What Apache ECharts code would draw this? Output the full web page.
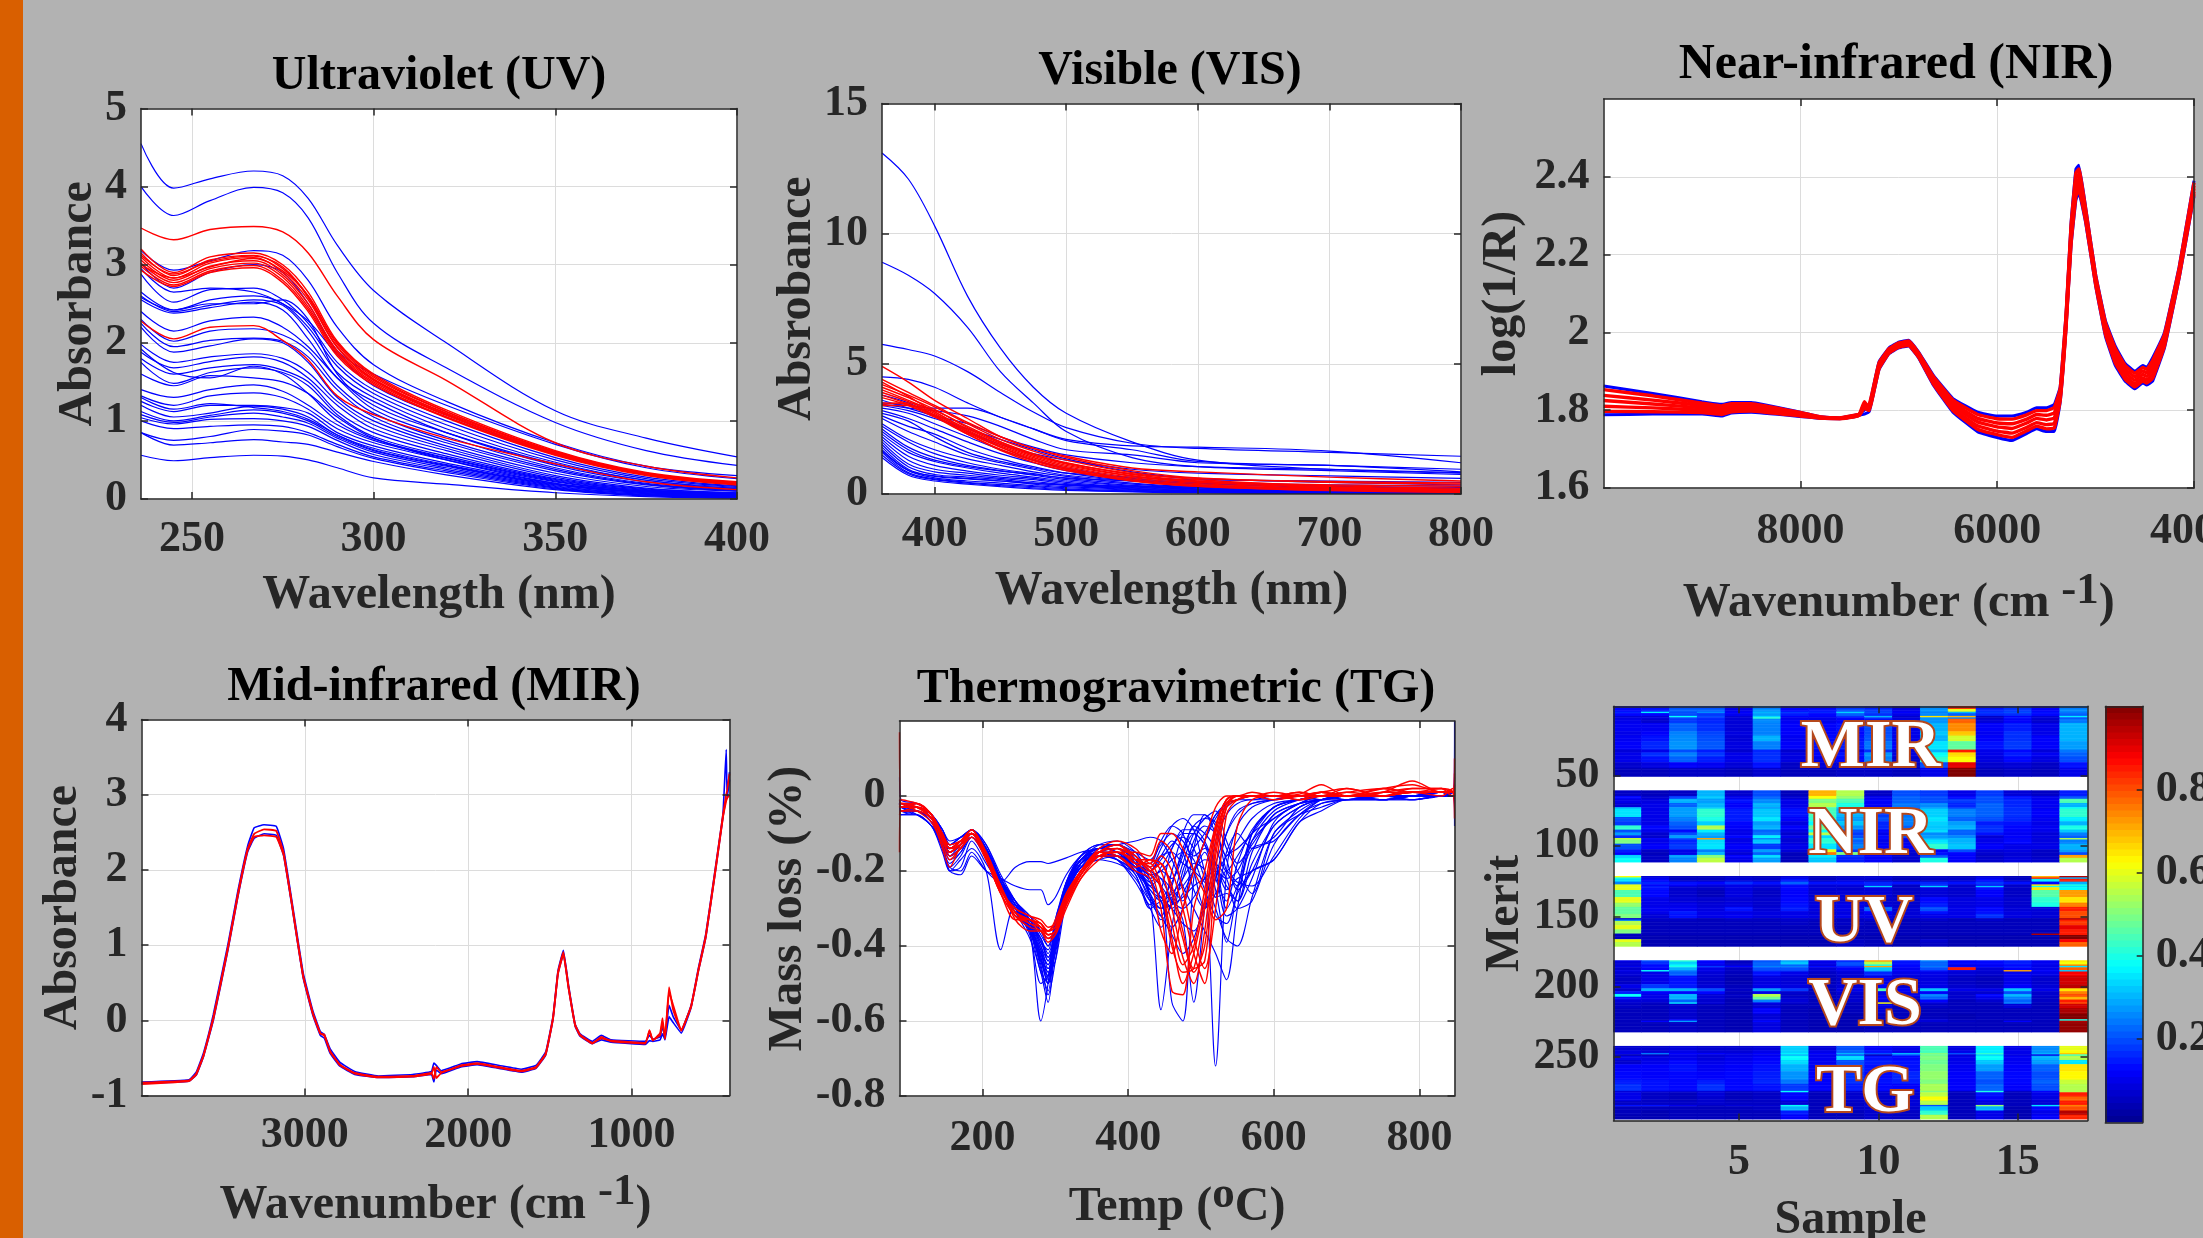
<!DOCTYPE html>
<html><head><meta charset="utf-8">
<style>html,body{margin:0;padding:0;background:#b2b2b2;overflow:hidden}#c{width:2203px;height:1238px}</style>
<script src="https://cdn.jsdelivr.net/npm/echarts@6/dist/echarts.min.js"></script></head>
<body><div id="c"></div>
<script>
const FONT='"Liberation Serif","Times New Roman",serif';
// ---------- UV ----------
const uvX=[236,245,255,267,275,282,290,300,320,350,375,400];
const uvBlue=[
[4.55,3.98,4.1,4.2,4.14,3.85,3.25,2.67,2.0,1.13,.78,.54],
[4.0,3.63,3.82,3.99,3.92,3.6,2.9,2.25,1.68,.98,.62,.43],
[3.18,2.93,3.05,3.18,3.12,2.8,2.2,1.72,1.25,.72,.42,.3],
[2.95,2.65,2.7,2.65,2.5,2.28,1.85,1.45,1.05,.58,.31,.2],
[2.88,2.52,2.68,2.7,2.55,2.25,1.75,1.4,1.0,.53,.28,.17],
[2.65,2.42,2.55,2.6,2.5,2.2,1.7,1.35,.95,.5,.26,.16],
[2.6,2.4,2.48,2.55,2.48,2.15,1.62,1.3,.9,.47,.24,.15],
[2.55,2.38,2.45,2.52,2.42,2.05,1.55,1.25,.85,.43,.22,.14],
[2.4,2.15,2.28,2.33,2.2,1.95,1.55,1.15,.8,.4,.2,.12],
[2.3,2.02,2.15,2.18,2.1,1.9,1.45,1.1,.75,.38,.19,.11],
[2.25,1.95,2.03,2.06,2.02,1.82,1.4,1.05,.72,.36,.18,.1],
[2.2,1.88,1.96,2.05,2.0,1.75,1.3,1.0,.68,.33,.16,.1],
[1.98,1.75,1.82,1.86,1.8,1.62,1.25,.95,.65,.3,.14,.08],
[1.88,1.68,1.76,1.82,1.75,1.55,1.2,.9,.62,.28,.13,.08],
[1.8,1.6,1.68,1.72,1.65,1.5,1.12,.85,.58,.26,.12,.07],
[1.75,1.48,1.62,1.68,1.62,1.45,1.08,.8,.55,.25,.11,.07],
[1.4,1.3,1.4,1.46,1.38,1.2,.95,.75,.52,.23,.1,.06],
[1.32,1.2,1.32,1.36,1.3,1.15,.9,.72,.5,.22,.1,.06],
[1.25,1.12,1.2,1.2,1.17,1.1,.85,.68,.46,.2,.09,.05],
[1.2,1.05,1.1,1.19,1.15,1.05,.82,.65,.44,.19,.08,.05],
[1.12,1.0,1.07,1.14,1.1,1.0,.8,.62,.42,.17,.07,.04],
[1.08,.98,1.05,1.1,1.05,.97,.78,.6,.4,.16,.07,.04],
[1.04,.96,1.02,1.03,1.0,.93,.75,.57,.38,.15,.06,.03],
[1.0,.9,.93,.95,.93,.85,.7,.54,.36,.14,.05,.03],
[.85,.75,.8,.89,.87,.82,.67,.52,.34,.13,.05,.02],
[.85,.69,.72,.76,.73,.7,.6,.48,.31,.12,.04,.02],
[.56,.49,.53,.56,.55,.5,.4,.27,.19,.08,.03,.01],
[1.3,1.15,1.22,1.17,1.12,1.02,.82,.63,.43,.18,.08,.04],
[1.92,1.62,1.55,1.7,1.6,1.35,1.0,.77,.53,.24,.11,.06],
[2.58,2.42,2.5,2.5,2.55,2.3,1.6,1.2,.85,.45,.24,.13],
[3.02,2.7,2.9,3.0,2.9,2.5,1.9,1.6,1.2,.7,.4,.26],
[1.6,1.45,1.58,1.55,1.5,1.35,1.05,.78,.5,.2,.09,.05]];
const uvRed=[
[3.47,3.32,3.45,3.49,3.42,3.15,2.6,2.04,1.52,.72,.42,.27],
[3.2,2.9,3.1,3.15,3.0,2.65,2.02,1.6,1.14,.62,.34,.22],
[3.15,2.86,3.06,3.12,2.95,2.6,1.98,1.56,1.12,.61,.33,.21],
[3.1,2.83,3.02,3.09,2.9,2.55,1.94,1.53,1.1,.6,.32,.21],
[3.06,2.8,2.98,3.05,2.87,2.5,1.9,1.52,1.08,.59,.32,.2],
[3.02,2.77,2.95,3.02,2.84,2.46,1.88,1.5,1.07,.58,.31,.2],
[2.98,2.74,2.92,2.99,2.8,2.43,1.86,1.48,1.05,.57,.31,.19],
[2.93,2.72,2.9,2.96,2.77,2.4,1.83,1.46,1.04,.56,.3,.18],
[3.0,2.83,2.97,3.08,2.92,2.6,2.0,1.58,1.12,.6,.33,.2],
[3.12,2.88,3.04,3.11,2.97,2.58,1.95,1.54,1.09,.58,.31,.19],
[2.28,2.05,2.2,2.22,2.03,1.78,1.32,1.08,.78,.45,.22,.12]];
// ---------- VIS ----------
const visX=[360,380,400,425,450,475,500,550,600,700,800];
const visBlue=[
[13.1,12.1,10.3,7.6,5.6,4.1,3.1,2.0,1.3,.95,.8],
[8.9,8.4,7.7,6.4,4.7,3.5,2.4,1.4,1.05,.9,.75],
[5.75,5.55,5.3,4.7,3.9,3.15,2.55,1.95,1.75,1.6,1.45],
[4.5,4.4,4.1,3.5,2.95,2.5,2.1,1.85,1.8,1.65,1.2],
[3.5,3.4,3.3,3.3,2.95,2.5,2.05,1.7,1.25,1.1,.95],
[3.45,3.3,3.2,3.0,2.6,2.1,1.7,1.5,1.2,1.1,.85],
[3.6,3.3,3.0,2.7,2.2,1.8,1.5,1.2,1.05,.95,.82],
[3.8,3.5,3.0,2.4,1.9,1.55,1.3,.95,.8,.7,.6],
[3.4,3.2,2.9,2.5,2.1,1.7,1.35,.85,.6,.45,.35],
[3.3,3.1,2.7,2.2,1.7,1.3,1.0,.6,.45,.3,.2],
[3.2,2.9,2.5,2.0,1.55,1.2,.9,.55,.4,.25,.15],
[3.0,2.6,2.3,1.75,1.35,1.05,.8,.5,.33,.2,.12],
[2.7,2.1,1.7,1.35,1.1,.85,.68,.42,.28,.16,.1],
[2.6,2.0,1.55,1.2,.95,.78,.6,.38,.25,.13,.08],
[2.5,1.8,1.4,1.1,.9,.72,.55,.33,.22,.12,.07],
[2.3,1.6,1.25,1.0,.8,.65,.5,.3,.2,.1,.06],
[2.2,1.45,1.1,.88,.72,.6,.45,.27,.18,.09,.05],
[2.1,1.3,.95,.8,.65,.55,.4,.25,.16,.08,.04],
[2,1.15,.85,.72,.6,.48,.36,.22,.14,.07,.04],
[1.9,1.05,.75,.65,.55,.42,.33,.2,.12,.06,.03],
[1.8,.95,.68,.58,.5,.38,.28,.18,.1,.05,.03],
[1.7,.9,.62,.5,.42,.32,.24,.15,.08,.04,.02],
[1.6,.82,.58,.45,.36,.28,.2,.12,.07,.03,.02],
[1.5,.78,.55,.42,.32,.24,.17,.1,.06,.03,.02],
[1.4,.72,.5,.38,.28,.2,.14,.08,.04,.02,.01],
[2.9,2.4,2.0,1.5,1.2,.95,.72,.5,.4,.3,.25],
[3.1,2.8,2.2,1.6,1.25,1.0,.8,.65,.55,.5,.45],
[2.4,1.7,1.3,1.05,.88,.75,.62,.5,.42,.35,.3],
[1.65,.9,.7,.6,.5,.42,.35,.3,.25,.2,.16]];
const visRed=[
[4.9,4.3,3.6,2.9,2.2,1.75,1.45,1.0,.85,.65,.5],
[4.4,3.9,3.4,2.75,2.2,1.75,1.4,.9,.62,.45,.38],
[4.2,3.8,3.35,2.7,2.1,1.65,1.3,.82,.55,.32,.22],
[4.1,3.7,3.25,2.55,2.0,1.55,1.2,.75,.5,.28,.18],
[4.0,3.6,3.15,2.45,1.9,1.45,1.1,.68,.45,.25,.15],
[3.9,3.55,3.1,2.4,1.85,1.4,1.05,.63,.4,.22,.13],
[3.8,3.45,3.0,2.35,1.8,1.35,1.0,.58,.36,.19,.11],
[3.7,3.4,2.95,2.3,1.72,1.28,.95,.53,.33,.17,.09],
[3.5,3.45,3.0,2.3,1.68,1.22,.9,.5,.3,.15,.08],
[3.4,3.4,3.05,2.4,1.8,1.3,.95,.52,.3,.13,.06],
[3.45,3.5,3.2,2.6,2.0,1.5,1.15,.7,.48,.35,.3],
[4.3,3.75,3.15,2.5,1.95,1.5,1.18,.78,.6,.48,.42]];
// ---------- NIR ----------
const nirX=[10000,9500,9000,8800,8700,8500,8000,7800,7600,7450,7400,7350,7300,7250,7200,7100,7000,6900,6800,6650,6450,6200,6000,5850,5700,5600,5500,5420,5360,5300,5250,5200,5170,5100,5000,4900,4800,4700,4600,4520,4480,4420,4300,4150,4000];
const nirBlue=[
[1.862,1.843,1.822,1.815,1.82,1.82,1.795,1.783,1.78,1.787,1.79,1.8,1.812,1.87,1.925,1.96,1.975,1.98,1.95,1.89,1.83,1.795,1.785,1.785,1.795,1.806,1.806,1.815,1.86,2.05,2.28,2.42,2.43,2.32,2.15,2.03,1.965,1.92,1.9,1.915,1.91,1.935,2.0,2.17,2.39],
[1.788,1.79,1.79,1.785,1.793,1.795,1.784,1.779,1.778,1.783,1.787,1.79,1.797,1.85,1.905,1.945,1.96,1.965,1.935,1.865,1.795,1.745,1.73,1.722,1.74,1.752,1.745,1.745,1.82,2.01,2.22,2.34,2.36,2.28,2.12,1.99,1.915,1.875,1.855,1.87,1.865,1.875,1.96,2.14,2.35]];
const nirRed=[
[1.853,1.837,1.818,1.811,1.817,1.817,1.794,1.783,1.78,1.787,1.79,1.81,1.815,1.868,1.922,1.958,1.973,1.978,1.948,1.887,1.826,1.789,1.778,1.777,1.788,1.799,1.799,1.807,1.855,2.045,2.272,2.41,2.42,2.315,2.146,2.025,1.959,1.915,1.895,1.91,1.905,1.928,1.995,2.166,2.385],
[1.838,1.826,1.812,1.805,1.812,1.812,1.791,1.782,1.779,1.786,1.789,1.815,1.808,1.864,1.919,1.955,1.97,1.975,1.945,1.882,1.819,1.779,1.767,1.765,1.777,1.789,1.787,1.793,1.847,2.037,2.26,2.395,2.408,2.307,2.14,2.017,1.949,1.906,1.886,1.901,1.896,1.916,1.987,2.16,2.377],
[1.825,1.816,1.806,1.8,1.806,1.807,1.789,1.781,1.779,1.785,1.79,1.822,1.805,1.86,1.915,1.952,1.967,1.972,1.942,1.877,1.812,1.77,1.757,1.753,1.767,1.779,1.775,1.78,1.84,2.03,2.25,2.38,2.395,2.3,2.135,2.01,1.94,1.897,1.877,1.892,1.887,1.905,1.98,2.155,2.37],
[1.81,1.806,1.8,1.794,1.8,1.802,1.787,1.78,1.779,1.784,1.788,1.812,1.802,1.856,1.911,1.949,1.964,1.969,1.939,1.872,1.805,1.76,1.746,1.741,1.756,1.768,1.763,1.766,1.832,2.022,2.238,2.364,2.381,2.292,2.129,2.002,1.93,1.888,1.868,1.883,1.878,1.893,1.972,2.149,2.362],
[1.797,1.796,1.794,1.789,1.796,1.798,1.785,1.78,1.778,1.783,1.787,1.805,1.799,1.852,1.907,1.947,1.962,1.967,1.937,1.868,1.799,1.751,1.737,1.73,1.747,1.759,1.752,1.754,1.825,2.015,2.228,2.35,2.368,2.285,2.124,1.995,1.921,1.88,1.86,1.875,1.87,1.882,1.965,2.144,2.355]];
// ---------- MIR ----------
const mirX=[4000,3710,3665,3620,3560,3470,3410,3350,3310,3250,3175,3130,3085,3010,2950,2905,2880,2845,2785,2695,2550,2340,2225,2210,2195,2165,2045,1945,1810,1675,1585,1525,1480,1450,1417,1385,1345,1315,1240,1185,1125,915,890,870,825,810,795,770,745,695,635,590,545,485,440,420,415,400];
const mirBlue=[
[-.82,-.79,-.69,-.43,.08,1.02,1.72,2.32,2.56,2.6,2.58,2.28,1.67,.63,.12,-.15,-.19,-.38,-.56,-.68,-.74,-.72,-.68,-.57,-.6,-.67,-.58,-.55,-.6,-.65,-.6,-.42,.06,.66,.93,.46,-.05,-.18,-.28,-.2,-.26,-.28,-.2,-.25,-.22,-.08,-.24,.2,.05,-.13,.2,.7,1.15,2.05,2.75,3.6,3.0,3.3],
[-.84,-.81,-.73,-.48,.0,.94,1.64,2.24,2.42,2.48,2.46,2.19,1.6,.56,.06,-.2,-.24,-.44,-.61,-.72,-.76,-.75,-.72,-.82,-.66,-.71,-.62,-.59,-.64,-.69,-.64,-.46,.02,.62,.88,.42,-.08,-.21,-.31,-.26,-.29,-.32,-.27,-.28,-.26,-.18,-.26,.05,-.03,-.17,.17,.66,1.1,2.0,2.7,2.95,2.95,3.2]];
const mirRed=[
[-.83,-.8,-.71,-.46,.04,.98,1.68,2.28,2.48,2.54,2.52,2.23,1.63,.59,.09,-.17,-.21,-.41,-.59,-.7,-.75,-.74,-.7,-.78,-.62,-.69,-.6,-.57,-.62,-.67,-.62,-.44,.04,.64,.91,.44,-.06,-.19,-.3,-.24,-.27,-.3,-.14,-.26,-.2,-.02,-.24,.44,.14,-.14,.19,.68,1.13,2.03,2.73,3.0,3.05,3.28],
[-.85,-.81,-.72,-.47,.02,.96,1.66,2.26,2.44,2.46,2.44,2.2,1.62,.58,.08,-.18,-.19,-.42,-.6,-.71,-.76,-.75,-.71,-.62,-.77,-.7,-.61,-.58,-.63,-.68,-.63,-.45,.03,.62,.88,.42,-.07,-.2,-.31,-.22,-.28,-.31,-.13,-.27,-.17,.03,-.25,.38,.2,-.13,.18,.66,1.11,2.0,2.7,2.92,2.95,3.0]];
// ---------- TG ----------
const tgX=[86,88,110,130,145,155,170,185,205,225,245,265,280,290,300,315,335,360,385,410,430,445,460,475,490,505,520,535,550,570,600,635,665,700,750,790,830,846,848];
const tgBlue=[
[-.02,-.04,-.03,-.06,-.12,-.16,-.13,-.11,-.16,-.24,-.29,-.36,-.6,-.5,-.33,-.25,-.19,-.14,-.13,-.16,-.22,-.28,-.35,-.3,-.2,-.12,-.06,-.02,-.01,0,0,-.01,0,0,-.01,0,.01,.01,.2],
[.05,-.01,-.02,-.05,-.14,-.19,-.16,-.11,-.17,-.25,-.31,-.38,-.47,-.55,-.4,-.25,-.17,-.14,-.15,-.18,-.27,-.57,-.35,-.2,-.14,-.1,-.05,-.02,-.01,0,-.01,0,-.01,0,-.01,-.01,0,0,-.08],
[-.05,-.05,-.04,-.07,-.13,-.2,-.19,-.12,-.18,-.24,-.3,-.37,-.5,-.48,-.37,-.26,-.19,-.16,-.17,-.21,-.3,-.28,-.55,-.6,-.22,-.12,-.05,-.03,-.01,-.01,0,0,-.01,0,0,-.01,0,.01,.05],
[-.03,-.04,-.04,-.06,-.1,-.13,-.12,-.1,-.15,-.24,-.28,-.36,-.42,-.47,-.44,-.28,-.18,-.15,-.16,-.17,-.2,-.22,-.28,-.33,-.55,-.3,-.12,-.05,-.02,-.01,-.01,0,0,-.01,0,0,.01,0,0],
[-.02,-.03,-.05,-.08,-.15,-.2,-.17,-.14,-.2,-.41,-.29,-.32,-.36,-.4,-.34,-.24,-.17,-.14,-.15,-.2,-.25,-.28,-.26,-.22,-.18,-.2,-.72,-.2,-.08,-.03,-.01,0,0,-.01,-.01,0,0,.01,.02],
[-.01,-.03,-.04,-.07,-.14,-.19,-.2,-.15,-.2,-.23,-.19,-.175,-.175,-.18,-.175,-.165,-.15,-.14,-.13,-.12,-.11,-.12,-.17,-.24,-.3,-.36,-.42,-.49,-.3,-.1,-.03,-.01,0,0,-.01,0,.01,.01,.03],
[-.04,-.05,-.05,-.08,-.13,-.2,-.21,-.16,-.2,-.22,-.24,-.25,-.25,-.29,-.27,-.21,-.16,-.14,-.14,-.17,-.23,-.27,-.3,-.26,-.2,-.15,-.25,-.39,-.25,-.1,-.03,-.01,-.01,0,0,-.01,0,0,-.02],
[-.02,-.03,-.03,-.05,-.09,-.13,-.11,-.09,-.13,-.22,-.29,-.33,-.4,-.44,-.35,-.23,-.16,-.14,-.15,-.2,-.27,-.3,-.29,-.27,-.24,-.22,-.2,-.24,-.28,-.15,-.05,-.02,-.01,0,0,0,.01,0,0],
[-.03,-.04,-.03,-.05,-.1,-.14,-.13,-.1,-.14,-.23,-.3,-.35,-.44,-.5,-.36,-.24,-.17,-.15,-.16,-.19,-.26,-.3,-.27,-.24,-.2,-.17,-.18,-.22,-.3,-.28,-.13,-.05,-.02,-.01,0,0,.01,.01,.01],
[-.02,-.03,-.02,-.05,-.09,-.12,-.11,-.09,-.13,-.21,-.28,-.34,-.38,-.43,-.38,-.25,-.18,-.16,-.16,-.18,-.21,-.2,-.17,-.15,-.17,-.25,-.32,-.34,-.26,-.2,-.17,-.07,-.04,-.01,-.01,0,.01,.01,0],
[-.03,-.04,-.04,-.07,-.11,-.15,-.13,-.1,-.15,-.23,-.3,-.35,-.42,-.47,-.4,-.27,-.19,-.17,-.18,-.2,-.2,-.17,-.13,-.11,-.14,-.22,-.3,-.38,-.4,-.27,-.1,-.05,-.03,-.01,-.01,0,0,.01,.01],
[-.02,-.03,-.03,-.06,-.1,-.14,-.12,-.09,-.14,-.23,-.29,-.33,-.39,-.41,-.33,-.23,-.16,-.13,-.13,-.17,-.27,-.32,-.37,-.42,-.38,-.28,-.18,-.1,-.05,-.02,-.01,0,0,0,0,.01,0,0,0],
[-.01,-.02,-.03,-.05,-.09,-.13,-.11,-.1,-.14,-.22,-.28,-.32,-.37,-.4,-.34,-.23,-.17,-.13,-.12,-.15,-.2,-.16,-.12,-.15,-.25,-.3,-.26,-.2,-.23,-.24,-.16,-.06,-.01,0,-.01,-.01,0,0,.01],
[-.03,-.04,-.04,-.07,-.12,-.16,-.14,-.11,-.15,-.24,-.3,-.34,-.38,-.42,-.36,-.25,-.17,-.15,-.16,-.21,-.29,-.25,-.14,-.1,-.1,-.13,-.18,-.25,-.22,-.2,-.17,-.07,-.02,-.01,0,0,.01,.01,0],
[-.02,-.04,-.05,-.08,-.14,-.18,-.15,-.11,-.16,-.24,-.31,-.36,-.44,-.46,-.39,-.26,-.18,-.15,-.17,-.23,-.3,-.35,-.28,-.18,-.1,-.06,-.04,-.12,-.18,-.13,-.05,-.02,-.01,0,0,0,0,0,-.01],
[-.03,-.03,-.03,-.06,-.11,-.15,-.13,-.1,-.15,-.23,-.29,-.34,-.41,-.48,-.42,-.27,-.18,-.14,-.14,-.18,-.26,-.33,-.29,-.22,-.12,-.08,-.1,-.17,-.25,-.2,-.08,-.03,-.01,-.01,0,.01,0,0,0],
[-.02,-.03,-.02,-.05,-.1,-.14,-.12,-.09,-.14,-.22,-.28,-.33,-.36,-.38,-.36,-.24,-.16,-.13,-.13,-.16,-.19,-.14,-.08,-.06,-.09,-.2,-.27,-.15,-.1,-.14,-.11,-.03,-.01,0,0,0,.01,.01,0],
[-.04,-.05,-.05,-.08,-.12,-.15,-.13,-.1,-.15,-.24,-.3,-.36,-.45,-.53,-.44,-.26,-.18,-.16,-.17,-.22,-.28,-.3,-.2,-.1,-.05,-.05,-.1,-.16,-.12,-.06,-.02,-.01,0,0,0,0,0,0,-.01],
[-.02,-.03,-.03,-.06,-.11,-.15,-.13,-.1,-.15,-.23,-.29,-.34,-.43,-.5,-.41,-.26,-.18,-.15,-.14,-.17,-.24,-.22,-.25,-.28,-.14,-.05,-.08,-.2,-.24,-.12,-.04,-.01,0,0,0,0,0,0,.01],
[-.03,-.04,-.03,-.06,-.1,-.14,-.12,-.09,-.14,-.22,-.29,-.35,-.41,-.45,-.37,-.25,-.17,-.14,-.14,-.17,-.18,-.12,-.08,-.1,-.2,-.3,-.22,-.1,-.04,-.02,-.01,0,0,0,0,0,0,0,0],
[-.03,-.04,-.04,-.07,-.12,-.17,-.15,-.1,-.15,-.24,-.3,-.35,-.46,-.52,-.38,-.25,-.18,-.16,-.17,-.2,-.24,-.27,-.3,-.34,-.36,-.3,-.22,-.16,-.14,-.1,-.03,-.01,0,0,0,0,.01,0,0],
[-.02,-.03,-.03,-.06,-.1,-.15,-.13,-.09,-.15,-.23,-.29,-.36,-.43,-.49,-.35,-.24,-.17,-.15,-.15,-.19,-.21,-.24,-.28,-.3,-.27,-.22,-.2,-.22,-.2,-.12,-.06,-.02,0,0,0,0,0,0,0],
[-.03,-.03,-.04,-.06,-.11,-.16,-.14,-.11,-.16,-.24,-.3,-.34,-.4,-.46,-.41,-.26,-.19,-.17,-.16,-.18,-.2,-.16,-.15,-.18,-.2,-.23,-.27,-.26,-.28,-.18,-.08,-.03,-.01,0,0,0,0,0,0],
[-.02,-.04,-.04,-.06,-.1,-.14,-.12,-.1,-.14,-.23,-.28,-.33,-.38,-.44,-.38,-.24,-.17,-.14,-.13,-.15,-.17,-.13,-.1,-.12,-.16,-.14,-.18,-.3,-.24,-.14,-.12,-.05,-.01,0,0,0,0,0,0],
[-.03,-.04,-.03,-.05,-.1,-.14,-.12,-.09,-.14,-.23,-.3,-.36,-.47,-.5,-.39,-.25,-.18,-.15,-.15,-.19,-.23,-.19,-.14,-.09,-.09,-.12,-.2,-.32,-.3,-.22,-.07,-.02,-.01,0,0,0,0,0,0],
[-.02,-.03,-.03,-.06,-.11,-.15,-.13,-.1,-.15,-.23,-.29,-.34,-.42,-.45,-.36,-.24,-.17,-.15,-.16,-.2,-.28,-.32,-.24,-.14,-.08,-.06,-.07,-.14,-.2,-.26,-.1,-.04,-.01,0,0,0,0,0,0],
[-.02,-.03,-.03,-.05,-.1,-.13,-.11,-.09,-.14,-.22,-.28,-.33,-.39,-.43,-.37,-.24,-.17,-.15,-.15,-.18,-.25,-.27,-.23,-.15,-.1,-.13,-.22,-.28,-.18,-.09,-.03,-.01,0,0,0,0,0,0,0],
[-.03,-.04,-.04,-.07,-.12,-.16,-.14,-.1,-.15,-.24,-.3,-.35,-.44,-.48,-.4,-.26,-.18,-.16,-.16,-.19,-.22,-.2,-.22,-.16,-.08,-.1,-.14,-.2,-.16,-.1,-.06,-.02,0,0,0,0,0,0,0]];
const tgRed=[
[.17,-.03,-.03,-.05,-.11,-.14,-.12,-.1,-.16,-.25,-.31,-.33,-.34,-.36,-.35,-.28,-.21,-.16,-.15,-.17,-.2,-.3,-.52,-.53,-.3,-.2,-.08,-.01,0,0,0,.005,.03,0,0,.01,.01,.01,.06],
[-.15,-.01,-.02,-.05,-.12,-.15,-.13,-.1,-.17,-.26,-.32,-.33,-.35,-.37,-.36,-.28,-.2,-.15,-.14,-.18,-.18,-.24,-.38,-.5,-.42,-.28,-.1,-.02,0,0,-.01,0,.01,0,.01,.04,.01,.01,.1],
[-.02,-.03,-.02,-.05,-.1,-.13,-.12,-.1,-.16,-.25,-.3,-.32,-.33,-.35,-.34,-.27,-.2,-.15,-.15,-.17,-.17,-.2,-.3,-.43,-.5,-.36,-.12,-.02,-.01,0,0,.01,0,.02,0,.02,.02,.01,-.06],
[-.03,-.02,-.03,-.06,-.11,-.14,-.13,-.1,-.16,-.25,-.31,-.33,-.35,-.36,-.35,-.27,-.21,-.16,-.16,-.19,-.17,-.18,-.24,-.36,-.46,-.44,-.16,-.03,0,0,0,-.01,0,.01,.02,.01,.02,0,0],
[-.01,-.02,-.04,-.07,-.13,-.17,-.14,-.11,-.17,-.26,-.32,-.34,-.36,-.38,-.36,-.29,-.22,-.17,-.14,-.16,-.19,-.16,-.2,-.3,-.42,-.5,-.2,-.03,-.01,0,0,0,.01,.02,0,.01,0,.02,0],
[-.03,-.03,-.03,-.05,-.12,-.15,-.12,-.09,-.15,-.24,-.32,-.35,-.36,-.39,-.37,-.29,-.21,-.15,-.13,-.16,-.2,-.18,-.26,-.38,-.47,-.4,-.14,-.02,0,0,.01,0,0,0,.02,.03,.01,.01,.02],
[-.05,-.04,-.04,-.06,-.1,-.14,-.12,-.1,-.16,-.25,-.3,-.32,-.34,-.36,-.34,-.26,-.2,-.14,-.12,-.14,-.18,-.12,-.15,-.25,-.38,-.46,-.3,-.05,-.01,0,0,-.01,.01,0,.01,.02,.02,.01,.03],
[-.02,-.02,-.02,-.05,-.11,-.13,-.12,-.1,-.15,-.24,-.31,-.33,-.34,-.37,-.36,-.28,-.2,-.16,-.15,-.15,-.16,-.1,-.1,-.14,-.2,-.26,-.33,-.3,-.08,-.01,0,0,.01,0,0,.01,.01,.01,.01],
[-.03,-.03,-.03,-.05,-.11,-.16,-.14,-.1,-.17,-.26,-.33,-.33,-.35,-.38,-.37,-.3,-.22,-.16,-.15,-.18,-.21,-.24,-.34,-.45,-.4,-.25,-.08,-.01,0,0,0,0,0,.01,0,.01,.01,.01,.01],
[-.04,-.04,-.03,-.06,-.11,-.14,-.12,-.1,-.16,-.25,-.31,-.34,-.35,-.37,-.36,-.28,-.21,-.15,-.16,-.2,-.22,-.36,-.42,-.3,-.2,-.12,-.03,0,0,.01,0,0,0,0,.01,.01,.01,.01,.01],
[-.02,-.02,-.03,-.06,-.14,-.19,-.13,-.09,-.16,-.24,-.33,-.36,-.36,-.36,-.33,-.26,-.2,-.15,-.13,-.17,-.19,-.25,-.4,-.47,-.46,-.3,-.09,-.01,0,0,0,.01,0,0,.02,.01,.01,.01,.01]];
// ---------- Heat map: each block is band heights (rows) and 17 sample values per band ----------
const samples=[1,2,3,4,5,6,7,8,9,10,11,12,13,14,15,16,17];
const mirHeights=[2,2,1,2,1,1,3,6,3,4,6,2,3,4,4,6];
const mirHeat=[
[.13,.14,.2,.2,.1,.24,.13,.12,.17,.15,.08,.26,.85,.14,.17,.12,.24],
[.13,.15,.22,.22,.1,.27,.13,.14,.2,.18,.1,.27,.6,.16,.18,.12,.26],
[.16,.36,.2,.26,.12,.3,.18,.16,.33,.2,.12,.25,.3,.18,.2,.14,.24],
[.13,.13,.2,.18,.11,.28,.15,.13,.22,.17,.1,.26,.22,.16,.17,.13,.22],
[.08,.08,.38,.2,.08,.34,.12,.12,.17,.3,.07,.65,.7,.06,.12,.08,.36],
[.09,.09,.2,.17,.08,.42,.1,.1,.13,.18,.08,.27,.25,.06,.14,.08,.2],
[.1,.07,.18,.16,.08,.26,.11,.1,.12,.14,.09,.27,.78,.08,.12,.07,.24],
[.11,.11,.22,.17,.08,.25,.12,.12,.14,.2,.1,.3,.74,.12,.15,.1,.3],
[.1,.12,.25,.19,.09,.25,.12,.12,.13,.2,.1,.32,.68,.11,.17,.1,.3],
[.11,.14,.26,.2,.08,.3,.11,.13,.14,.21,.1,.3,.58,.12,.17,.12,.3],
[.12,.16,.27,.21,.09,.25,.12,.14,.15,.24,.12,.35,.47,.14,.18,.12,.28],
[.08,.1,.2,.15,.07,.16,.07,.1,.1,.17,.08,.3,.85,.1,.13,.08,.24],
[.1,.17,.25,.18,.1,.17,.09,.12,.14,.27,.09,.38,.66,.1,.15,.11,.22],
[.1,.14,.22,.15,.1,.17,.09,.1,.13,.25,.07,.42,.62,.09,.13,.09,.2],
[.07,.09,.12,.11,.08,.14,.06,.08,.08,.12,.06,.2,.9,.07,.08,.06,.14],
[.05,.05,.06,.06,.05,.07,.05,.05,.06,.06,.05,.1,1,.05,.06,.05,.1]];
const nirHeights=[4,2,3,3,1,6,3,3,3,2,2,2,1,3,4,2,2,2,3];
const nirHeat=[
[.06,.05,.06,.3,.07,.2,.05,.7,.55,.06,.2,.18,.1,.18,.08,.06,.15],
[.13,.07,.18,.32,.1,.22,.07,.62,.52,.1,.22,.2,.13,.2,.14,.1,.2],
[.1,.09,.3,.28,.14,.26,.1,.5,.45,.12,.22,.2,.18,.2,.16,.11,.45],
[.08,.1,.22,.3,.12,.3,.1,.55,.4,.12,.24,.26,.16,.22,.16,.11,.3],
[.3,.1,.28,.32,.13,.27,.11,.45,.32,.14,.22,.28,.18,.22,.17,.1,.38],
[.35,.1,.28,.42,.15,.32,.14,.44,.3,.18,.24,.33,.25,.22,.17,.12,.42],
[.2,.1,.25,.4,.15,.35,.12,.42,.28,.2,.25,.35,.22,.2,.16,.11,.36],
[.18,.1,.22,.33,.13,.28,.09,.38,.32,.16,.25,.33,.28,.15,.14,.1,.3],
[.42,.13,.2,.55,.12,.3,.12,.48,.27,.16,.22,.32,.3,.17,.13,.11,.4],
[.2,.1,.13,.36,.1,.22,.09,.38,.2,.12,.2,.34,.22,.17,.12,.1,.32],
[.28,.07,.2,.3,.1,.24,.07,.55,.18,.1,.12,.26,.22,.14,.11,.08,.25],
[.17,.07,.28,.28,.13,.36,.1,.34,.2,.13,.2,.28,.26,.08,.12,.09,.22],
[.57,.12,.2,.72,.08,.25,.07,.4,.26,.12,.12,.3,.3,.1,.11,.08,.55],
[.5,.1,.16,.34,.1,.32,.08,.42,.22,.1,.1,.35,.3,.1,.13,.09,.25],
[.2,.12,.18,.35,.12,.18,.1,.35,.25,.12,.12,.42,.32,.12,.1,.1,.3],
[.15,.06,.1,.25,.1,.28,.08,.6,.18,.1,.08,.12,.2,.08,.09,.06,.28],
[.12,.05,.1,.3,.08,.22,.05,.76,.5,.1,.07,.14,.13,.07,.08,.06,.2],
[.33,.06,.28,.5,.12,.34,.05,.35,.16,.12,.07,.2,.12,.06,.08,.06,.72],
[.38,.06,.25,.56,.1,.28,.05,.32,.15,.12,.07,.4,.12,.07,.09,.07,.55]];
const uvHeights=[1,1,2,2,1,1,2,5,4,3,3,2,3,1,1,3,3,3,1,3,2,3];
const uvHeat=[
[.62,.08,.05,.05,.06,.05,.08,.05,.06,.07,.05,.06,.05,.08,.05,.7,.95],
[.4,.1,.05,.05,.07,.06,.1,.05,.07,.08,.05,.06,.06,.1,.05,.85,.3],
[.35,.12,.06,.06,.08,.07,.14,.06,.08,.07,.05,.06,.07,.13,.06,.36,.85],
[.25,.16,.14,.13,.17,.14,.22,.14,.14,.16,.14,.16,.14,.18,.14,.13,.3],
[.6,.12,.12,.09,.1,.09,.14,.08,.09,.14,.06,.16,.07,.14,.06,.65,.4],
[.6,.15,.09,.08,.1,.08,.13,.08,.08,.33,.06,.33,.07,.32,.07,.4,.35],
[.6,.14,.07,.06,.09,.07,.13,.08,.07,.09,.06,.09,.07,.14,.06,.65,.38],
[.45,.13,.07,.05,.09,.06,.12,.07,.08,.08,.06,.08,.07,.12,.06,.46,.72],
[.6,.1,.08,.07,.08,.07,.13,.08,.08,.07,.07,.13,.09,.1,.07,.42,.65],
[.52,.1,.1,.08,.09,.07,.14,.09,.1,.08,.07,.15,.09,.1,.07,.4,.75],
[.47,.11,.11,.09,.14,.08,.15,.09,.1,.22,.08,.2,.1,.13,.08,.08,.85],
[.47,.1,.15,.1,.1,.09,.1,.08,.09,.12,.08,.14,.1,.14,.09,.08,.8],
[.5,.08,.14,.1,.11,.09,.1,.09,.1,.1,.08,.1,.1,.17,.09,.08,.8],
[.06,.06,.06,.05,.06,.05,.06,.06,.05,.07,.05,.06,.05,.06,.05,.05,.95],
[.25,.06,.06,.05,.06,.06,.07,.06,.06,.07,.05,.07,.05,.07,.05,.05,.85],
[.55,.05,.05,.05,.05,.05,.06,.05,.06,.05,.05,.05,.05,.05,.05,.05,.82],
[.6,.05,.05,.05,.05,.05,.05,.05,.05,.05,.05,.05,.05,.05,.05,.05,.9],
[.5,.05,.05,.05,.05,.05,.05,.05,.05,.05,.05,.05,.05,.05,.05,.05,.85],
[.06,.05,.05,.05,.05,.05,.05,.05,.05,.05,.05,.05,.05,.05,.05,.95,.85],
[.05,.04,.04,.04,.04,.04,.04,.04,.04,.04,.04,.04,.04,.04,.04,.04,1],
[.6,.04,.04,.04,.04,.04,.04,.04,.06,.05,.04,.07,.04,.04,.04,.04,.88],
[.55,.04,.04,.04,.04,.04,.04,.04,.06,.05,.04,.06,.04,.04,.04,.04,.78]];
const visHeights=[1,2,1,1,2,1,3,6,3,2,2,2,2,2,1,3,4,4,1,1,7];
const visHeat=[
[.1,.2,.42,.13,.05,.2,.28,.1,.15,.72,.15,.25,.12,.14,.15,.11,.65],
[.08,.17,.33,.12,.06,.22,.32,.1,.2,.55,.14,.22,.13,.13,.15,.11,.62],
[.08,.13,.38,.1,.08,.22,.22,.08,.2,.38,.13,.22,.1,.11,.13,.1,.75],
[.1,.14,.4,.18,.12,.25,.25,.13,.16,.72,.13,.24,.13,.13,.15,.1,.35],
[.07,.12,.3,.1,.06,.2,.2,.08,.12,.32,.11,.2,.85,.08,.12,.1,.78],
[.1,.37,.25,.1,.06,.18,.18,.08,.1,.3,.12,.15,.1,.08,.72,.12,.32],
[.08,.1,.22,.08,.05,.14,.1,.06,.08,.16,.1,.1,.08,.07,.11,.1,.88],
[.06,.1,.14,.07,.04,.09,.08,.05,.07,.1,.08,.09,.06,.05,.1,.07,.92],
[.1,.18,.15,.08,.05,.1,.09,.06,.08,.12,.08,.1,.07,.06,.12,.08,.94],
[.07,.3,.3,.2,.06,.28,.18,.05,.1,.45,.12,.32,.1,.1,.32,.1,.65],
[.15,.12,.13,.13,.05,.1,.07,.05,.08,.1,.1,.12,.07,.07,.2,.07,.75],
[.38,.1,.3,.08,.06,.55,.06,.05,.07,.1,.1,.25,.07,.13,.3,.07,.8],
[.13,.1,.3,.08,.05,.48,.07,.05,.07,.12,.07,.22,.07,.1,.25,.06,.7],
[.08,.08,.22,.07,.04,.25,.08,.05,.07,.1,.06,.12,.05,.07,.22,.06,.85],
[.07,.06,.35,.08,.04,.1,.07,.05,.05,.62,.05,.08,.05,.05,.25,.05,.8],
[.06,.05,.07,.05,.04,.08,.05,.05,.05,.1,.05,.06,.05,.05,.08,.05,.92],
[.05,.05,.07,.05,.04,.12,.05,.04,.05,.08,.05,.05,.05,.05,.05,.05,.96],
[.05,.05,.07,.05,.04,.08,.05,.04,.04,.06,.05,.05,.04,.05,.05,.05,1],
[.05,.05,.12,.05,.04,.1,.05,.04,.04,.06,.08,.08,.05,.05,.05,.05,.4],
[.05,.12,.28,.05,.04,.13,.05,.04,.04,.06,.1,.08,.06,.05,.12,.05,.95],
[.05,.05,.06,.05,.04,.09,.05,.04,.04,.05,.05,.05,.05,.05,.05,.05,.98]];
const tgHeights=[3,2,1,1,3,3,5,6,3,5,1,3,3,3,1,3,3,3];
const tgHeat=[
[.07,.07,.08,.07,.07,.08,.33,.08,.2,.12,.1,.45,.09,.36,.1,.26,.6],
[.09,.08,.1,.08,.08,.1,.33,.1,.22,.14,.1,.44,.1,.36,.1,.27,.62],
[.1,.24,.12,.12,.1,.12,.36,.12,.3,.2,.3,.5,.2,.42,.1,.3,.68],
[.04,.05,.1,.08,.09,.1,.3,.1,.2,.05,.2,.48,.08,.33,.09,.1,.44],
[.1,.09,.1,.08,.1,.12,.38,.11,.34,.14,.13,.5,.1,.38,.11,.3,.55],
[.07,.1,.13,.1,.11,.13,.34,.11,.2,.15,.14,.48,.1,.32,.11,.28,.35],
[.12,.12,.14,.11,.12,.14,.3,.11,.19,.14,.14,.5,.11,.28,.12,.22,.65],
[.13,.12,.13,.12,.13,.15,.27,.12,.17,.13,.16,.52,.12,.22,.13,.2,.63],
[.15,.14,.13,.15,.13,.16,.24,.12,.17,.14,.15,.5,.12,.2,.13,.22,.57],
[.17,.14,.13,.17,.13,.14,.18,.12,.15,.13,.12,.54,.12,.22,.12,.2,.55],
[.08,.08,.08,.08,.06,.07,.38,.06,.08,.08,.08,.5,.06,.4,.06,.12,.55],
[.1,.06,.05,.08,.05,.06,.13,.05,.07,.07,.08,.56,.05,.14,.05,.1,.85],
[.1,.06,.05,.07,.05,.06,.12,.05,.07,.07,.08,.62,.05,.12,.05,.09,.78],
[.06,.06,.06,.07,.06,.06,.08,.05,.06,.07,.08,.55,.05,.09,.05,.08,.85],
[.14,.14,.1,.06,.08,.07,.38,.05,.06,.1,.08,.2,.05,.52,.05,.35,.75],
[.05,.05,.05,.05,.05,.06,.3,.05,.06,.07,.07,.32,.05,.3,.04,.13,.8],
[.05,.04,.05,.05,.05,.05,.15,.05,.05,.07,.06,.42,.05,.1,.04,.1,.95],
[.04,.04,.05,.05,.05,.05,.12,.05,.05,.07,.06,.55,.05,.1,.04,.12,.84]];
const GAP_ROWS=10, TOTAL_ROWS=295;
const jet=['#00008f','#0000ff','#0080ff','#00ffff','#80ff80','#ffff00','#ff8000','#ff0000','#800000'];

// ---------- option building ----------
const INK='#262626', GRID='#dcdcdc', TICK=7;
const option={animation:false,backgroundColor:'#b2b2b2',grid:[],xAxis:[],yAxis:[],series:[],title:[],
 graphic:{elements:[{type:'rect',shape:{x:0,y:0,width:23,height:1238},style:{fill:'#d95f00'}}]}};
const nameRich={sup:{fontFamily:FONT,fontWeight:'bold',fontSize:45,color:INK,padding:[0,0,26,0]}};
const nameStyle=()=>({fontFamily:FONT,fontWeight:'bold',fontSize:48,color:INK,rich:nameRich,lineHeight:56});
const labelStyle={fontFamily:FONT,fontWeight:'bold',fontSize:44,color:INK};
const yLabelPad=[6,0,0,0];
const plain=v=>String(v);
function addTitle(text,x,y,size){option.title.push({text,left:x,top:y,textAlign:'center',textVerticalAlign:'middle',
  textStyle:{fontFamily:FONT,fontWeight:'bold',fontSize:size,color:'#000'},padding:0});}
function addPanel(p){
  const g=option.grid.length;
  option.grid.push({left:p.l,top:p.t,width:p.r-p.l,height:p.b-p.t,show:true,backgroundColor:'#fff',borderWidth:0,outerBoundsMode:'none',containLabel:false});
  const X=option.xAxis.length,Y=option.yAxis.length;
  const xb={type:'value',gridIndex:g,min:p.xMin,max:p.xMax,inverse:!!p.xInv};
  const yb={type:'value',gridIndex:g,min:p.yMin,max:p.yMax};
  const line={show:true,onZero:false,lineStyle:{color:INK,width:1.5}};
  const none={show:false,onZero:false};
  // labelled axes (under the curves, carrying the grid lines)
  option.xAxis.push({...xb,position:'bottom',name:p.xName,nameLocation:'middle',nameGap:p.xGap,nameTextStyle:nameStyle(),nameMoveOverlap:false,
    axisLine:none,axisTick:{show:false,customValues:p.xTicks},
    axisLabel:{...labelStyle,margin:p.xMargin,customValues:p.xTicks,formatter:plain,hideOverlap:false,showMinLabel:true,showMaxLabel:true},
    splitLine:{show:true,lineStyle:{color:GRID,width:1}}});
  option.yAxis.push({...yb,position:'left',name:p.yName,nameLocation:'middle',nameGap:p.yGap,nameRotate:90,nameTextStyle:nameStyle(),nameMoveOverlap:false,
    axisLine:none,axisTick:{show:false,customValues:p.yTicks},
    axisLabel:{...labelStyle,margin:14,padding:yLabelPad,customValues:p.yTicks,formatter:plain,hideOverlap:false,showMinLabel:true,showMaxLabel:true},
    splitLine:{show:true,lineStyle:{color:GRID,width:1}}});
  // box axes on top of the curves
  [['bottom',p.xTicks],['top',p.xTicks]].forEach(([pos,t])=>option.xAxis.push({...xb,position:pos,z:6,axisLine:line,
    axisTick:{show:true,inside:true,length:TICK,customValues:t,lineStyle:{color:INK,width:1.5}},axisLabel:{show:false},splitLine:{show:false}}));
  [['left',p.yTicks],['right',p.yTicks]].forEach(([pos,t])=>option.yAxis.push({...yb,position:pos,z:6,axisLine:line,
    axisTick:{show:true,inside:true,length:TICK,customValues:t,lineStyle:{color:INK,width:1.5}},axisLabel:{show:false},splitLine:{show:false}}));
  const add=(rows,xs,color,w,sm)=>rows.forEach(r=>option.series.push({type:'line',xAxisIndex:X,yAxisIndex:Y,showSymbol:false,symbol:'none',silent:true,
    smooth:sm,lineStyle:{color,width:w},data:xs.map((x,i)=>[x,r[i]])}));
  add(p.blue,p.x,'#0000ff',p.w,p.smooth);
  add(p.red,p.x,'#ff0000',p.wr||p.w,p.smooth);
}
addTitle('Ultraviolet (UV)',439,77,48);
addPanel({l:141,r:737,t:108.5,b:499,xMin:236,xMax:400,yMin:0,yMax:5,xTicks:[250,300,350,400],yTicks:[0,1,2,3,4,5],xMargin:19,
  xName:'Wavelength (nm)',xGap:69,yName:'Absorbance',yGap:34,x:uvX,blue:uvBlue,red:uvRed,w:1.2,wr:1.4,smooth:.35});
addTitle('Visible (VIS)',1170,72,48);
addPanel({l:882,r:1461,t:103.5,b:494,xMin:360,xMax:800,yMin:0,yMax:15,xTicks:[400,500,600,700,800],yTicks:[0,5,10,15],xMargin:19,
  xName:'Wavelength (nm)',xGap:70,yName:'Absrobance',yGap:56,x:visX,blue:visBlue,red:visRed,w:1.2,wr:1.4,smooth:.35});
addTitle('Near-infrared (NIR)',1896,65.5,50);
addPanel({l:1603.6,r:2194,t:99,b:488,xMin:4000,xMax:10000,xInv:true,yMin:1.6,yMax:2.6,xTicks:[8000,6000,4000],yTicks:[1.6,1.8,2,2.2,2.4],xMargin:22,
  xName:'Wavenumber (cm {sup|-1})',xGap:88,yName:'log(1/R)',yGap:73,x:nirX,blue:nirBlue,red:nirRed,w:3,wr:3.4,smooth:.1});
addTitle('Mid-infrared (MIR)',434,687.5,48);
addPanel({l:141.5,r:729.5,t:719.5,b:1095.5,xMin:400,xMax:4000,xInv:true,yMin:-1,yMax:4,xTicks:[3000,2000,1000],yTicks:[-1,0,1,2,3,4],xMargin:18,
  xName:'Wavenumber (cm {sup|-1})',xGap:82,yName:'Absorbance',yGap:50,x:mirX,blue:mirBlue,red:mirRed,w:1.6,wr:1.8,smooth:.1});
addTitle('Thermogravimetric (TG)',1176,689.5,48);
addPanel({l:899.5,r:1454.5,t:721,b:1096,xMin:86,xMax:848,yMin:-.8,yMax:.2,xTicks:[200,400,600,800],yTicks:[0,-.2,-.4,-.6,-.8],xMargin:21,
  xName:'Temp ({sup|o}C)',xGap:84,yName:'Mass loss (%)',yGap:83,x:tgX,blue:tgBlue,red:tgRed,w:1.15,wr:1.4,smooth:.3});

// heat map panel, drawn with two category axes
const rowLabels=[];for(let i=1;i<=TOTAL_ROWS;i++)rowLabels.push(String(i));
const heatData=[];
(function(){let row=0;
 [[mirHeights,mirHeat],[nirHeights,nirHeat],[uvHeights,uvHeat],[visHeights,visHeat],[tgHeights,tgHeat]].forEach(([h,v],bi)=>{
   h.forEach((n,k)=>{for(let j=0;j<n;j++,row++)v[k].forEach((val,c)=>heatData.push([c,row,val]));});
   if(bi<4)row+=GAP_ROWS;
 });})();
const xEvery=i=>(i+1)%5===0, yEvery=i=>(i+1)%50===0;
const hg=option.grid.length;
option.grid.push({left:1613.5,top:706.3,width:474,height:414.3,show:true,backgroundColor:'#fff',borderWidth:0,outerBoundsMode:'none',containLabel:false});
const hx=option.xAxis.length,hy=option.yAxis.length;
const xc={type:'category',gridIndex:hg,data:samples.map(String)}, yc={type:'category',gridIndex:hg,inverse:true,data:rowLabels};
const hline={show:true,onZero:false,lineStyle:{color:INK,width:1.5}};
option.xAxis.push({...xc,position:'bottom',name:'Sample',nameLocation:'middle',nameGap:72,nameTextStyle:nameStyle(),nameMoveOverlap:false,
  axisLine:{show:false},axisTick:{show:false},axisLabel:{...labelStyle,margin:20,interval:(i)=>xEvery(i)},
  splitLine:{show:true,interval:(i)=>xEvery(i),alignWithLabel:true,lineStyle:{color:GRID,width:1}}});
option.yAxis.push({...yc,position:'left',name:'Merit',nameLocation:'middle',nameGap:80,nameRotate:90,nameTextStyle:nameStyle(),nameMoveOverlap:false,
  axisLine:{show:false},axisTick:{show:false},axisLabel:{...labelStyle,margin:14,padding:yLabelPad,interval:(i)=>yEvery(i)},splitLine:{show:false}});
['bottom','top'].forEach(pos=>option.xAxis.push({...xc,position:pos,z:6,axisLine:hline,axisLabel:{show:false},splitLine:{show:false},
  axisTick:{show:true,inside:true,length:TICK,alignWithLabel:true,interval:(i)=>xEvery(i),lineStyle:{color:INK,width:1.5}}}));
['left','right'].forEach(pos=>option.yAxis.push({...yc,position:pos,z:6,axisLine:hline,axisLabel:{show:false},splitLine:{show:false},
  axisTick:{show:true,inside:true,length:TICK,alignWithLabel:true,interval:(i)=>yEvery(i),lineStyle:{color:INK,width:1.5}}}));
const heatIdx=option.series.length;
option.series.push({type:'heatmap',xAxisIndex:hx,yAxisIndex:hy,data:heatData,silent:true,progressive:0,itemStyle:{borderWidth:0}});

// colour bar: 64 levels on a hidden category axis, read through a 0-1 value axis
const cbLevels=[];for(let i=0;i<64;i++)cbLevels.push((i+.5)/64);
const cg=option.grid.length;
option.grid.push({left:2105.3,top:706.3,width:37.4,height:416,show:true,backgroundColor:'#fff',borderWidth:0,outerBoundsMode:'none',containLabel:false});
const cx=option.xAxis.length,cy=option.yAxis.length;
option.xAxis.push({type:'category',gridIndex:cg,data:['c'],position:'bottom',axisLine:hline,axisTick:{show:false},axisLabel:{show:false},splitLine:{show:false},z:6});
option.xAxis.push({type:'category',gridIndex:cg,data:['c'],position:'top',axisLine:hline,axisTick:{show:false},axisLabel:{show:false},splitLine:{show:false},z:6});
option.yAxis.push({type:'category',gridIndex:cg,data:cbLevels.map(String),position:'left',axisLine:hline,axisTick:{show:false},axisLabel:{show:false},splitLine:{show:false},z:6});
const cbTicks=[.2,.4,.6,.8];
option.yAxis.push({type:'value',gridIndex:cg,min:0,max:1,position:'right',z:6,axisLine:hline,splitLine:{show:false},
  axisTick:{show:true,inside:true,length:6,customValues:cbTicks,lineStyle:{color:INK,width:1.5}},
  axisLabel:{...labelStyle,margin:13,padding:yLabelPad,customValues:cbTicks,formatter:plain,hideOverlap:false}});
const cbIdx=option.series.length;
option.series.push({type:'heatmap',xAxisIndex:cx,yAxisIndex:cy,silent:true,data:cbLevels.map((v,i)=>[0,i,v]),itemStyle:{borderWidth:0}});
option.visualMap=[{type:'continuous',show:false,min:0,max:1,seriesIndex:[heatIdx,cbIdx],inRange:{color:jet}}];

// block captions over the heat map
[['MIR',1870.7,748],['NIR',1870.7,835],['UV',1864,923],['VIS',1865,1006],['TG',1865,1093]].forEach(([t,x,y])=>option.graphic.elements.push({
  type:'text',z:100,style:{text:t,x,y,align:'center',verticalAlign:'middle',fontFamily:FONT,fontWeight:'bold',fontSize:68,fill:'#fff',
  stroke:'#b5481c',lineWidth:4,strokeFirst:true,shadowColor:'rgba(255,170,90,.9)',shadowBlur:5}}));
const chart=echarts.init(document.getElementById('c'),null,{renderer:'canvas',width:2203,height:1238});
chart.setOption(option);
</script></body></html>
